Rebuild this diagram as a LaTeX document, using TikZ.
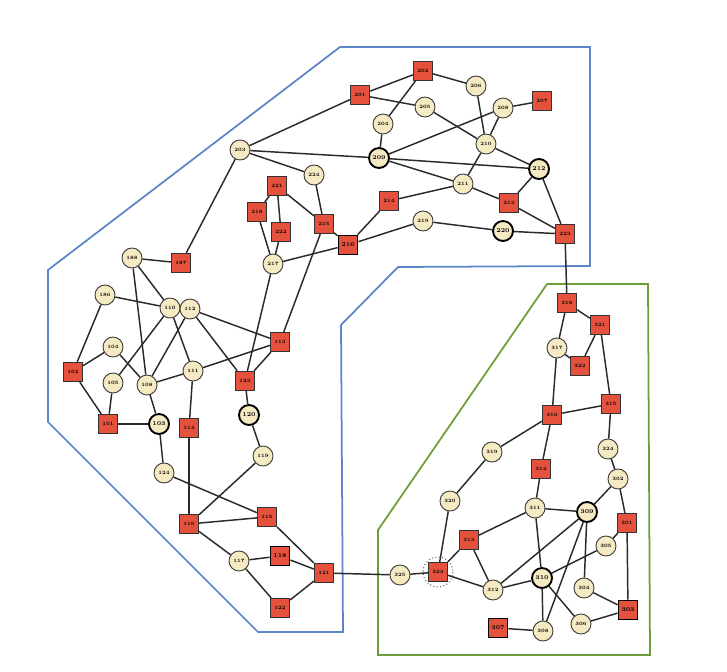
\documentclass[tikz,border=0pt]{standalone}
\usetikzlibrary{positioning}
\definecolor{sqred}{HTML}{E4523E}
\definecolor{circcream}{HTML}{F6EAC2}
\definecolor{zoneblue}{HTML}{5B86C8}
\definecolor{zonegreen}{HTML}{6E9E3A}
\definecolor{edgegray}{HTML}{2A2A2A}
\tikzset{
  circ/.style={circle,draw=black!75,fill=circcream,line width=0.8pt,minimum size=0.6cm,inner sep=0pt,font=\fontsize{4.2}{5}\selectfont\bfseries},
  hubcirc/.style={circ,line width=1.6pt,draw=black,font=\fontsize{5}{6}\selectfont\bfseries},
  sq/.style={rectangle,draw=black!80,fill=sqred,line width=0.8pt,minimum size=0.58cm,inner sep=0pt,font=\fontsize{4.2}{5}\selectfont\bfseries},
  hubsq/.style={sq,line width=1.3pt,draw=black,font=\fontsize{5}{6}\selectfont\bfseries},
  link/.style={draw=edgegray,line width=1.25pt},
  zone/.style={line width=1.5pt,line join=miter}
}
\begin{document}
\begin{tikzpicture}[x=0.03cm,y=-0.03cm]
  \useasboundingbox (0,0) rectangle (727,671);
  %--- zones ---
  \draw[zone,zoneblue] (48,270) -- (340,47) -- (590,47) -- (590,266) -- (398,267)
    -- (341,325) -- (343,632) -- (258,632) -- (48,422) -- cycle;
  \draw[zone,zonegreen] (378,530) -- (547,284) -- (648,284) -- (650,655) -- (378,655) -- cycle;
  %--- plain nodes ---
  \foreach \n/\x/\y in {206/476/86, 205/425/107, 208/503/108, 204/383/124, 210/486/144,
      203/240/150, 211/463/184, 224/314/175, 219/423/221, 217/273/264,
      188/132/258, 186/105/295, 110/170/308, 112/190/309, 104/113/347, 105/113/383,
      108/147/385, 111/193/371, 119/263/456, 124/164/473, 117/239/561,
      317/557/348, 319/492/452, 324/608/449, 302/618/479, 320/450/501, 311/535/508,
      305/606/546, 325/400/575, 312/493/590, 304/584/588, 308/543/631, 306/581/624}{
    \node[circ] (n\n) at (\x,\y) {\n};
  }
  \foreach \n/\x/\y in {209/379/158, 212/539/169, 220/503/231, 103/159/424,
      120/249/415, 309/587/512, 310/542/578}{
    \node[hubcirc] (n\n) at (\x,\y) {\n};
  }
  \foreach \n/\x/\y in {202/423/71, 201/360/95, 207/542/101, 213/509/203, 221/277/186,
      218/257/212, 222/281/232, 215/324/224, 214/389/201, 223/565/234, 187/181/263,
      102/73/372, 113/280/342, 123/245/381, 101/108/424, 114/189/428, 116/189/524,
      115/267/517, 121/324/573, 122/280/608, 318/567/303, 321/600/325, 322/580/366,
      316/552/415, 315/611/404, 314/541/469, 301/627/523, 313/469/540, 323/438/572}{
    \node[sq] (n\n) at (\x,\y) {\n};
  }
  \foreach \n/\x/\y in {216/348/245, 118/280/556, 307/498/628, 303/628/610}{
    \node[hubsq] (n\n) at (\x,\y) {\n};
  }
  % dotted ring round 323
  \draw[black!60,dotted,line width=0.9pt] (n323.center) circle (15);
  %--- links ---
  \foreach \a/\b in {203/201, 203/209, 203/224, 203/187, 201/202, 201/205, 202/204,
      202/206, 204/209, 206/210, 205/210, 208/207, 208/209, 208/210, 209/212, 209/211,
      210/211, 210/212, 211/214, 211/213, 212/213, 212/223, 213/223, 214/216, 216/219,
      219/220, 220/223, 216/215, 216/217, 215/221, 215/224, 215/113, 221/218, 221/222,
      218/217, 222/217, 217/123, 223/318,
      188/187, 188/110, 188/108, 186/110, 186/102, 110/105, 110/111, 112/108, 112/113,
      112/123, 104/102, 104/108, 105/101, 108/111, 108/103, 111/113, 111/114, 113/123,
      102/101, 101/103, 103/124, 123/120, 120/119, 119/116, 124/115, 114/116, 116/115,
      116/117, 117/118, 117/122, 118/121, 115/121, 122/121, 121/325, 325/323,
      318/321, 318/317, 317/322, 321/322, 321/315, 317/316, 316/315, 316/319, 316/314,
      315/324, 324/302, 302/309, 302/301, 319/320, 320/323, 314/311, 311/309, 311/313,
      311/310, 309/312, 309/308, 309/304, 305/310, 301/305, 301/303, 313/323, 313/312,
      323/312, 312/310, 310/308, 310/306, 304/303, 306/303, 307/308}{
    \draw[link] (n\a) -- (n\b);
  }
\end{tikzpicture}
\end{document}
